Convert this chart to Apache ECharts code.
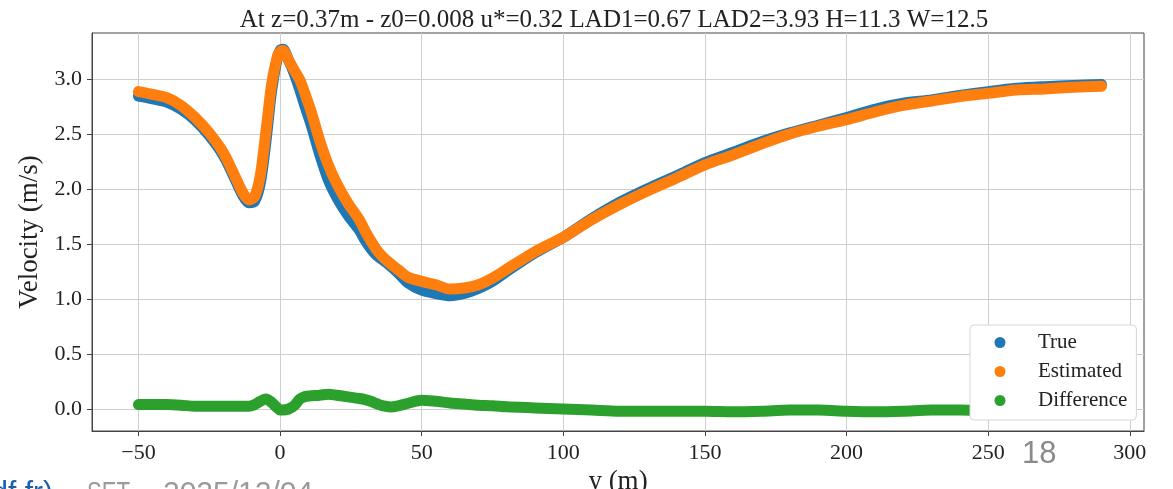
<!DOCTYPE html>
<html><head><meta charset="utf-8">
<script src="https://cdn.jsdelivr.net/npm/echarts@6/dist/echarts.min.js"></script>
<style>html,body{margin:0;padding:0;background:#fff;overflow:hidden}#c{width:1173px;height:489px}</style>
</head><body><div id="c"></div>
<script>
// y position (m)
const yPos = [-50,-45,-40,-35,-30,-25,-20,-16,-13,-11,-9,-7,-5,-3,-1,0,1,3,5,7,9,11,14,17,20,24,28,30,32,34,36,39,42,45,50,55,60,65,70,75,80,90,100,110,120,130,140,150,160,170,180,190,200,210,220,230,240,250,260,270,280,290];
// Estimated velocity (m/s)
const estimated = [2.885,2.86,2.83,2.76,2.65,2.51,2.33,2.12,1.96,1.90,1.93,2.12,2.52,2.95,3.20,3.25,3.26,3.17,3.08,2.99,2.85,2.70,2.44,2.22,2.05,1.87,1.72,1.62,1.53,1.45,1.39,1.32,1.26,1.20,1.16,1.13,1.09,1.10,1.13,1.19,1.27,1.43,1.56,1.72,1.86,1.985,2.10,2.22,2.31,2.41,2.50,2.57,2.63,2.70,2.76,2.80,2.84,2.87,2.90,2.91,2.925,2.935];
// True velocity (m/s)
const trueVel = [2.845,2.82,2.79,2.725,2.625,2.485,2.305,2.095,1.935,1.875,1.89,2.05,2.43,2.89,3.19,3.26,3.27,3.17,3.05,2.90,2.735,2.58,2.315,2.085,1.925,1.76,1.625,1.535,1.46,1.40,1.36,1.30,1.23,1.15,1.08,1.05,1.03,1.05,1.095,1.16,1.25,1.42,1.56,1.73,1.88,2.005,2.12,2.24,2.335,2.43,2.51,2.58,2.65,2.725,2.78,2.81,2.85,2.885,2.915,2.93,2.94,2.95];
// Difference (m/s)
const difference = [0.04,0.04,0.04,0.035,0.025,0.025,0.025,0.025,0.025,0.025,0.04,0.07,0.09,0.06,0.01,-0.01,-0.01,0.0,0.03,0.09,0.115,0.12,0.125,0.135,0.125,0.11,0.095,0.085,0.07,0.05,0.03,0.018,0.03,0.05,0.08,0.07,0.055,0.045,0.035,0.03,0.02,0.01,0.0,-0.01,-0.02,-0.02,-0.02,-0.02,-0.025,-0.02,-0.01,-0.01,-0.02,-0.025,-0.02,-0.01,-0.01,-0.015,-0.015,-0.02,-0.015,-0.015];
const xTicks = [-50,0,50,100,150,200,250,300];
const yTicks = [0,0.5,1,1.5,2,2.5,3];
const seriesNames = ['True','Estimated','Difference'];
const colors = ['#1f77b4','#ff7f0e','#2ca02c'];

const pairs = vals => yPos.map((x,i)=>[x, vals[i]]);
const serif = '"Liberation Serif","DejaVu Serif",serif';
const sans = '"Liberation Sans",sans-serif';
const chart = echarts.init(document.getElementById('c'), null, {renderer:'canvas'});
const lineSeries = (name, vals, color, z) => ({
  name, type:'line', data: pairs(vals), symbol:'none', smooth:0.3, z,
  lineStyle:{color, width:11, cap:'round', join:'round'}, itemStyle:{color}
});
const footStyle = (text, fill) => ({text, fontFamily:sans, fontSize:30, fill, verticalAlign:'top'});
chart.setOption({
  animation:false,
  backgroundColor:'#fff',
  title:{text:'At z=0.37m - z0=0.008 u*=0.32 LAD1=0.67 LAD2=3.93 H=11.3 W=12.5', left:614, textAlign:'center', top:0, padding:[8,0,0,0],
    textStyle:{fontFamily:serif, fontSize:25, fontWeight:'normal', color:'#222'}},
  grid:{left:92, right:29, top:33, bottom:58, outerBoundsMode:'none', containLabel:false, show:true, borderColor:'#444', borderWidth:1, backgroundColor:'transparent'},
  legend:{orient:'vertical', left:970, top:325, padding:[7,9,9,24.5], itemGap:8, itemWidth:50, itemHeight:11,
    backgroundColor:'#fff', borderColor:'#d6d6d6', borderWidth:1, borderRadius:4,
    data: seriesNames.map(n=>({name:n, icon:'circle'})),
    textStyle:{fontFamily:serif, fontSize:21, color:'#222', lineHeight:20, padding:[0,0,0,8]}},
  xAxis:{type:'value', min:-66.4, max:305,
    name:'y (m)', nameLocation:'middle', nameGap:35, nameTextStyle:{fontFamily:serif, fontSize:27, color:'#222'},
    axisLine:{show:true, onZero:false, lineStyle:{color:'#444', width:1}},
    axisTick:{show:true, customValues:xTicks, length:5, lineStyle:{color:'#444'}},
    axisLabel:{customValues:xTicks, margin:11, fontFamily:serif, fontSize:22, color:'#222', formatter:v=>String(v).replace('-','\u2212')},
    splitLine:{show:true, lineStyle:{color:'#cfcfcf', width:1}}},
  yAxis:{type:'value', min:-0.2, max:3.418,
    name:'Velocity (m/s)', nameLocation:'middle', nameGap:43, nameTextStyle:{fontFamily:serif, fontSize:27, color:'#222'},
    axisLine:{show:true, onZero:false, lineStyle:{color:'#444', width:1}},
    axisTick:{show:true, customValues:yTicks, length:5, lineStyle:{color:'#444'}},
    axisLabel:{customValues:yTicks, margin:10, fontFamily:serif, fontSize:22, color:'#222', formatter:v=>v.toFixed(1)},
    splitLine:{show:true, lineStyle:{color:'#cfcfcf', width:1}}},
  series:[
    lineSeries('True', trueVel, colors[0], 2),
    lineSeries('Estimated', estimated, colors[1], 3),
    lineSeries('Difference', difference, colors[2], 2)
  ],
  graphic:[
    {type:'text', left:1022, top:439, style:{text:'18', fontFamily:sans, fontSize:31, fill:'#8a8a8a'}},
    {type:'text', x:53, y:479, style:Object.assign(footStyle('df.fr)', '#1a5fb4'), {align:'right'})},
    {type:'text', x:62, y:479, style:footStyle('–', '#9a9a9a')},
    {type:'text', x:87, y:479, scaleX:0.74, style:footStyle('SET', '#9a9a9a')},
    {type:'text', x:138, y:479, style:footStyle('–', '#9a9a9a')},
    {type:'text', x:163, y:479, style:footStyle('2025/12/04', '#9a9a9a')}
  ]
});
</script></body></html>
